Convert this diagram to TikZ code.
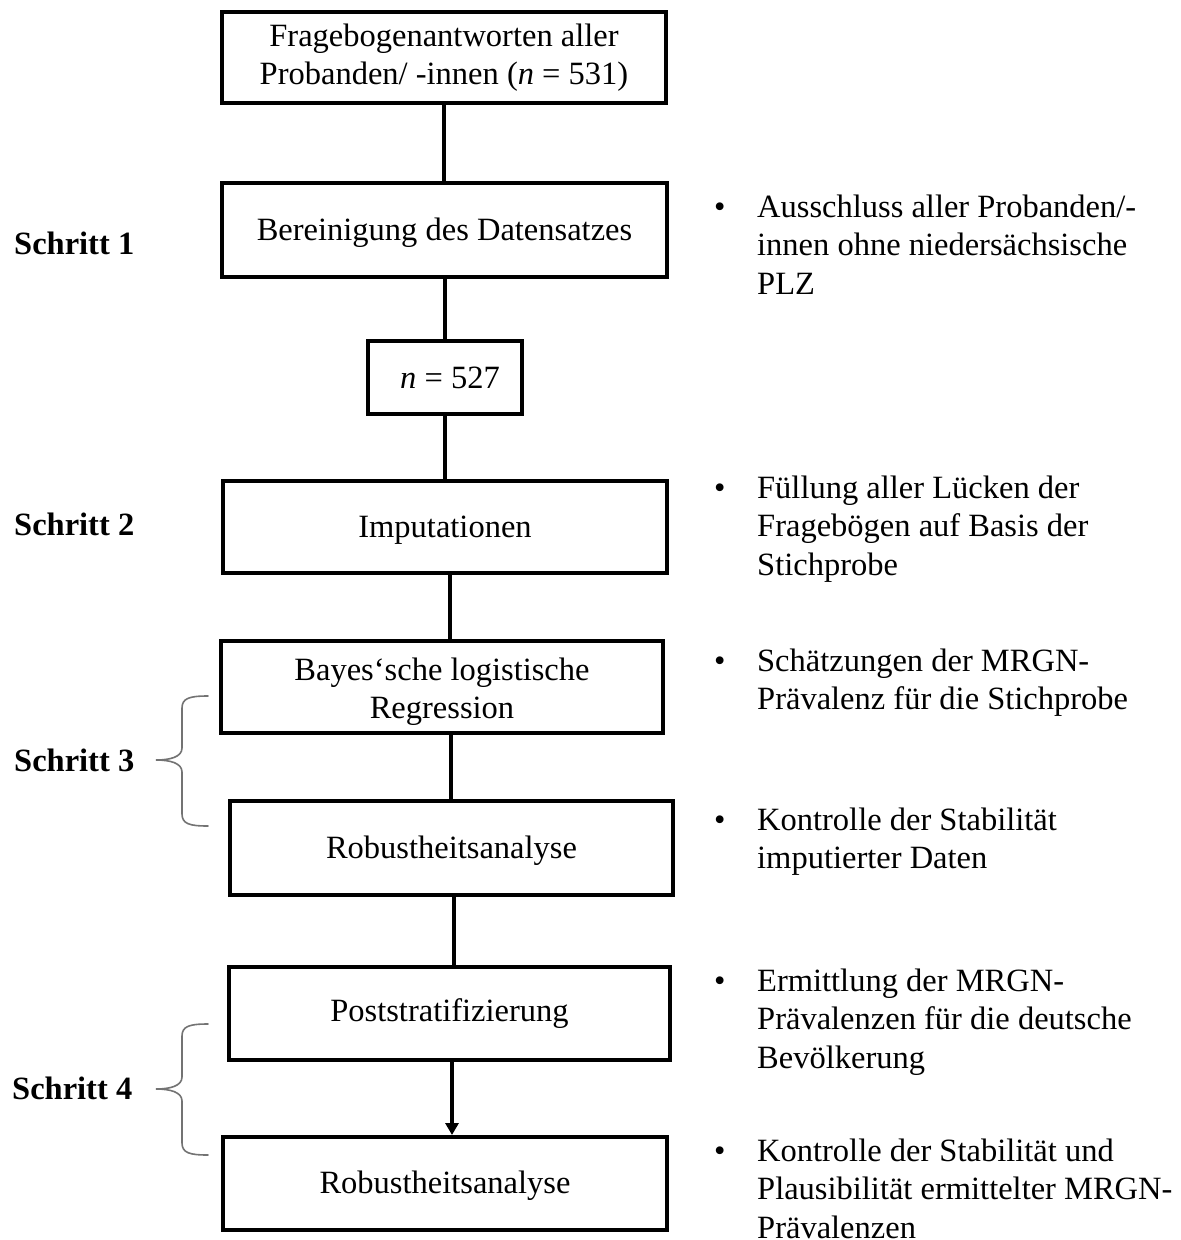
\documentclass[tikz,border=0pt]{standalone}
\usepackage{fontspec}
\setmainfont{Liberation Serif}
\usetikzlibrary{arrows.meta}
% bullet point followed by a left-aligned block of lines
\newcommand\notelines[1]{\makebox[43pt][l]{\textbullet}\begin{tabular}[t]{@{}l@{}}#1\end{tabular}}
% strut that sets a single box line a little lower
\newcommand\boxstrut{\rule[-10pt]{0pt}{40pt}}
\begin{document}
\begin{tikzpicture}[x=1pt,y=-1pt,
  font=\fontsize{32.5}{38.5}\selectfont,
  stepbox/.style={draw, line width=4pt, align=center, inner sep=0pt},
  link/.style={line width=3.5pt},
  steplabel/.style={anchor=base west, inner sep=0pt, font=\fontsize{32.5}{38.5}\selectfont\bfseries},
  note/.style={anchor=base west, inner sep=0pt},
  brace/.style={draw=black!55, line width=1.6pt, line cap=round}]
\useasboundingbox (0,0) rectangle (1181,1240);

% process boxes
\node[stepbox, minimum width=444pt, minimum height=91pt] (raw) at (444,57.5)
  {Fragebogenantworten aller\\Probanden/ -innen (\textit{n} = 531)};
\node[stepbox, minimum width=445pt, minimum height=94pt] (clean) at (444.5,230)
  {\boxstrut Bereinigung des Datensatzes};
\node[stepbox, minimum width=154pt, minimum height=73pt] (count) at (445,377.5)
  {\hspace{10pt}\textit{n} = 527};
\node[stepbox, minimum width=444pt, minimum height=92pt] (imp) at (445,527)
  {\boxstrut Imputationen};
\node[stepbox, minimum width=442pt, minimum height=92pt] (bayes) at (442,687)
  {\rule{0pt}{32pt}Bayes\textquoteleft sche logistische\\Regression};
\node[stepbox, minimum width=443pt, minimum height=94pt] (robA) at (451.5,848)
  {\boxstrut Robustheitsanalyse};
\node[stepbox, minimum width=441pt, minimum height=93pt] (post) at (449.5,1013.5)
  {Poststratifizierung};
\node[stepbox, minimum width=444pt, minimum height=93pt] (robB) at (445,1183.5)
  {\boxstrut Robustheitsanalyse};

% horizontal positions of the connectors
\coordinate (c1) at (444,0);
\coordinate (c2) at (445,0);
\coordinate (c3) at (445,0);
\coordinate (c4) at (450,0);
\coordinate (c5) at (451,0);
\coordinate (c6) at (454,0);
\coordinate (c7) at (452,0);

\draw[link] (raw.south -| c1) -- (clean.north -| c1);
\draw[link] (clean.south -| c2) -- (count.north -| c2);
\draw[link] (count.south -| c3) -- (imp.north -| c3);
\draw[link] (imp.south -| c4) -- (bayes.north -| c4);
\draw[link] (bayes.south -| c5) -- (robA.north -| c5);
\draw[link] (robA.south -| c6) -- (post.north -| c6);
\draw[link, -{Triangle[length=12pt,width=13pt]}] (post.south -| c7) -- (robB.north -| c7);

% step labels
\node[steplabel] (s1) at (14,254) {Schritt 1};
\node[steplabel] (s2) at (14,535) {Schritt 2};
\node[steplabel] (s3) at (14,771) {Schritt 3};
\node[steplabel] (s4) at (12,1099) {Schritt 4};

% braces grouping steps 3 and 4
\draw[brace] (208,696) .. controls (190,696) and (182,698) .. (182,708) -- (182,748)
  .. controls (182,757) and (170,760) .. (156,760)
  .. controls (170,760) and (182,763) .. (182,772) -- (182,814)
  .. controls (182,824) and (190,826) .. (208,826);
\draw[brace] (208,1024) .. controls (190,1024) and (182,1026) .. (182,1036) -- (182,1077)
  .. controls (182,1086) and (170,1089) .. (156,1089)
  .. controls (170,1089) and (182,1092) .. (182,1101) -- (182,1143)
  .. controls (182,1153) and (190,1155) .. (208,1155);

% explanatory notes
\node[note] (n1) at (714,217) {\notelines{Ausschluss aller Probanden/-\\innen ohne niedersächsische\\PLZ}};
\node[note] (n2) at (714,498) {\notelines{Füllung aller Lücken der\\Fragebögen auf Basis der\\Stichprobe}};
\node[note] (n3) at (714,671) {\notelines{Schätzungen der MRGN-\\Prävalenz für die Stichprobe}};
\node[note] (n4) at (714,830) {\notelines{Kontrolle der Stabilität\\imputierter Daten}};
\node[note] (n5) at (714,991) {\notelines{Ermittlung der MRGN-\\Prävalenzen für die deutsche\\Bevölkerung}};
\node[note] (n6) at (714,1161) {\notelines{Kontrolle der Stabilität und\\Plausibilität ermittelter MRGN-\\Prävalenzen}};
\end{tikzpicture}
\end{document}
